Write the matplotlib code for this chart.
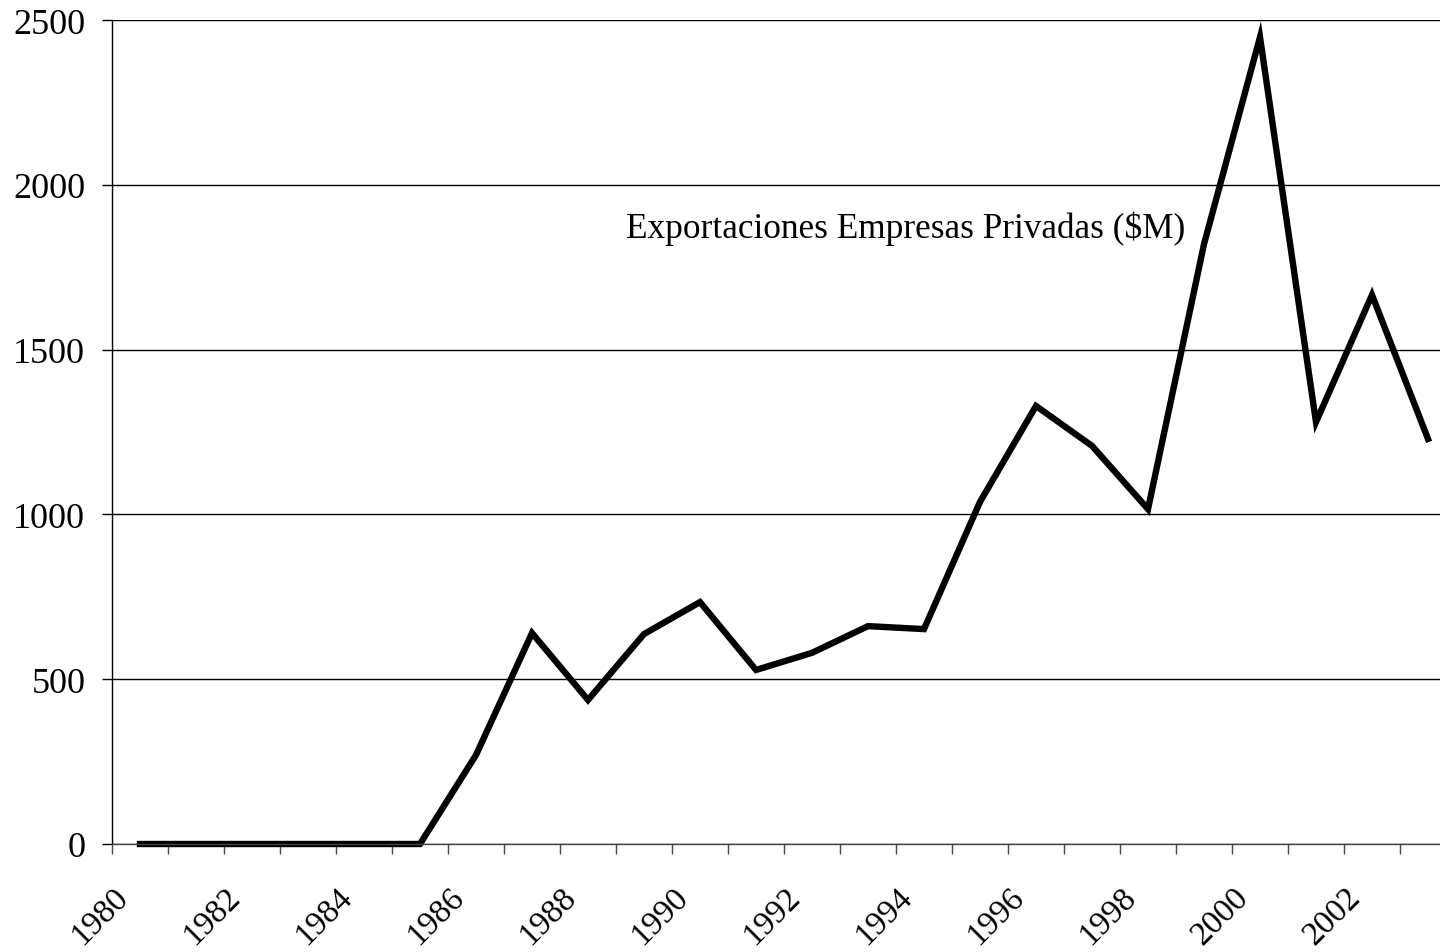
import matplotlib.pyplot as plt
import matplotlib.transforms as mtransforms

# datos: exportaciones de empresas privadas (millones de dolares)
years = list(range(1980, 2004))
exports = [0, 0, 0, 0, 0, 0, 270, 640, 437, 637, 734, 528, 580, 661, 652,
           1038, 1329, 1208, 1016, 1820, 2448, 1280, 1666, 1229]
yticks = [0, 500, 1000, 1500, 2000, 2500]
label_text = 'Exportaciones Empresas Privadas ($M)'

plt.rcParams['font.family'] = ['Liberation Serif', 'DejaVu Serif']

fig = plt.figure(figsize=(14.4, 9.53), dpi=100)
ax = fig.add_axes([112 / 1440, 108 / 953, 1344 / 1440, 824 / 953])

x = list(range(len(years)))
ax.plot(x, exports, color='black', lw=4.6, solid_joinstyle='miter', clip_on=False)

ax.set_xlim(-0.5, len(years) - 0.5)
ax.set_ylim(0, 2500)

# eje y
ax.set_yticks(yticks)
ax.set_yticklabels([str(v) for v in yticks], fontsize=26)
ax.tick_params(axis='y', direction='out', length=7.2, width=1, pad=12)
ax.grid(axis='y', color='black', lw=1)

# eje x: marcas entre categorias
ax.set_xticks([i - 0.5 for i in x])
ax.set_xticklabels([])
ax.tick_params(axis='x', direction='out', length=7.2, width=1, color='#444444')

# etiquetas de los anos (cada dos)
offset = mtransforms.ScaledTranslation(0, -37 / 100, fig.dpi_scale_trans)
trans = mtransforms.blended_transform_factory(ax.transData, ax.transAxes) + offset
for i, yr in enumerate(years):
    if yr % 2 == 0:
        ax.text(i - 0.1, 0, str(yr), transform=trans, rotation=45,
                ha='right', va='top', fontsize=24)

for s in ['top', 'right']:
    ax.spines[s].set_visible(False)
ax.spines['left'].set_linewidth(1)
ax.spines['bottom'].set_linewidth(1)
ax.spines['bottom'].set_color('#444444')
ax.set_axisbelow(True)

ax.text(13.68, 1870, label_text, fontsize=25.4, ha='center', va='center')

fig.savefig('out.png', dpi=100)
